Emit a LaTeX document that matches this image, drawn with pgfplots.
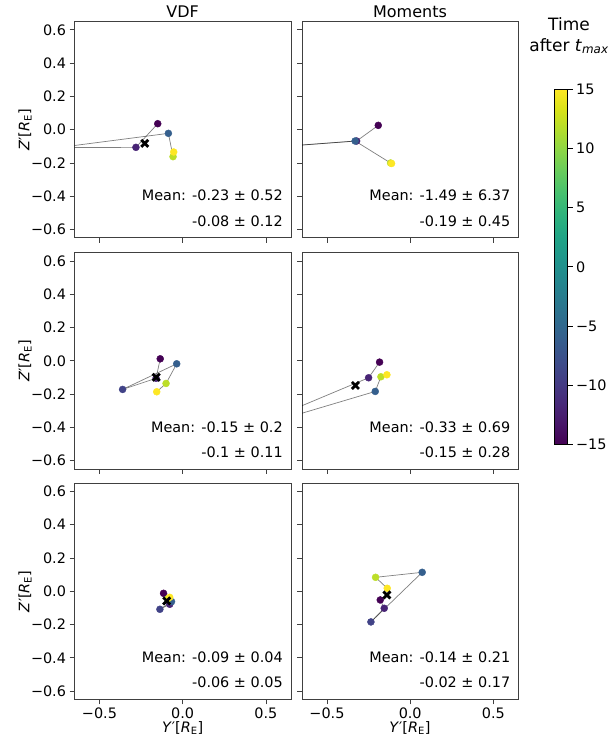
\documentclass[border=0pt]{standalone}
\usepackage{fontspec}
\setmainfont{DejaVu Sans}
\usepackage{pgfplots}
\usepackage{pgfplotstable}
\pgfplotsset{compat=1.18}

\pgfplotstableread{
x y t
-0.150 0.036 -15
-0.281 -0.106 -12
-0.751 -0.108 -9
-0.086 -0.022 -6
-0.058 -0.162 12
-0.054 -0.134 15
}\tabA
\pgfplotstableread{
x y t
-0.192 0.026 -15
-0.322 -0.068 -12
-7.860 -0.629 -9
-0.331 -0.068 -6
-0.118 -0.200 12
-0.112 -0.203 15
}\tabB
\pgfplotstableread{
x y t
-0.135 0.012 -15
-0.160 -0.105 -12
-0.361 -0.172 -9
-0.036 -0.018 -6
-0.100 -0.136 12
-0.156 -0.186 15
}\tabC
\pgfplotstableread{
x y t
-0.184 -0.008 -15
-0.250 -0.102 -12
-1.020 -0.425 -9
-0.210 -0.184 -6
-0.176 -0.096 12
-0.140 -0.084 15
}\tabD
\pgfplotstableread{
x y t
-0.115 -0.012 -15
-0.078 -0.078 -12
-0.137 -0.108 -9
-0.067 -0.062 -6
-0.090 -0.045 12
-0.078 -0.036 15
}\tabE
\pgfplotstableread{
x y t
-0.180 -0.052 -15
-0.156 -0.102 -12
-0.236 -0.184 -9
0.072 0.114 -6
-0.208 0.084 12
-0.138 0.018 15
}\tabF

\newcommand{\fs}{\fontsize{14.4}{17}\selectfont}
\pgfplotsset{
  panel/.style={
    width=216.4pt, height=216.4pt, scale only axis,
    xmin=-0.65, xmax=0.65, ymin=-0.65, ymax=0.65,
    xtick={-0.5,0,0.5}, ytick={-0.6,-0.4,-0.2,0,0.2,0.4,0.6},
    xticklabels={−0.5,0.0,0.5},
    yticklabels={−0.6,−0.4,−0.2,0.0,0.2,0.4,0.6},
    tick align=outside, xtick pos=bottom, ytick pos=left,
    major tick length=5pt,
    axis line style={black!75, line width=0.8pt},
    every tick/.style={black!75, line width=0.8pt},
    tick label style={font=\fs},
    colormap/viridis,
    point meta min=-15, point meta max=15,
    anchor=south west,
  },
  noxl/.style={xticklabels={,,}},
  noyl/.style={yticklabels={,,,,,,}},
  pts/.style={scatter, only marks, mark=*, mark size=3.5pt,
    scatter src=explicit,
    scatter/use mapped color={draw=mapped color, fill=mapped color}},
  ln/.style={no marks, draw=black, draw opacity=0.5, line width=0.7pt},
  xm/.style={only marks, mark=x, mark size=5pt,
    mark options={line width=2.8pt, draw=black}},
}
\newcommand{\panelplots}[1]{%
  \addplot[pts] table[x=x, y=y, meta=t] {#1};
  \addplot[ln, x filter/.expression={\coordindex>2 ? nan : x}] table[x=x, y=y] {#1};
  \addplot[ln, x filter/.expression={\coordindex<2 ? nan : x}] table[x=x, y=y] {#1};
}
\newcommand{\meantext}[2]{%
  \node[anchor=east, font=\fs, inner sep=0pt] at (rel axis cs:0.963,0.195) {#1};
  \node[anchor=east, font=\fs, inner sep=0pt] at (rel axis cs:0.963,0.079) {#2};
}

\begin{document}
\begin{tikzpicture}
\useasboundingbox (0,0) rectangle (608pt,743pt);

% Row 1 VDF
\begin{axis}[panel, noxl, at={(74.5pt,505.1pt)}]
\panelplots{\tabA}
\addplot[xm] coordinates {(-0.228,-0.082)};
\meantext{Mean: -0.23 ± 0.52}{-0.08 ± 0.12}
\end{axis}

% Row 1 Moments
\begin{axis}[panel, noxl, noyl, at={(302pt,505.1pt)},
  colorbar,
  colorbar style={
    at={(parent axis.north east)}, anchor=north west,
    xshift=27.7pt, yshift=-67.8pt,
    width=13pt, height=355pt, scale only axis,
    ytick={-15,-10,-5,0,5,10,15},
    yticklabels={−15,−10,−5,0,5,10,15},
    ytick pos=right, yticklabel pos=right,
    tick align=outside, major tick length=5pt,
    every tick/.style={black, line width=0.8pt},
    axis line style={black, line width=0.6pt},
    tick label style={font=\fs},
  }]
\panelplots{\tabB}
\addplot[xm] coordinates {(-1.49,-0.19)};
\meantext{Mean: -1.49 ± 6.37}{-0.19 ± 0.45}
\end{axis}

% Row 2 VDF
\begin{axis}[panel, noxl, at={(74.5pt,274pt)}]
\panelplots{\tabC}
\addplot[xm] coordinates {(-0.159,-0.099)};
\meantext{Mean: -0.15 ± 0.2}{-0.1 ± 0.11}
\end{axis}

% Row 2 Moments
\begin{axis}[panel, noxl, noyl, at={(302pt,274pt)}]
\panelplots{\tabD}
\addplot[xm] coordinates {(-0.329,-0.148)};
\meantext{Mean: -0.33 ± 0.69}{-0.15 ± 0.28}
\end{axis}

% Row 3 VDF
\begin{axis}[panel, at={(74.5pt,43.5pt)}]
\panelplots{\tabE}
\addplot[xm] coordinates {(-0.096,-0.058)};
\meantext{Mean: -0.09 ± 0.04}{-0.06 ± 0.05}
\end{axis}

% Row 3 Moments
\begin{axis}[panel, noyl, at={(302pt,43.5pt)}]
\panelplots{\tabF}
\addplot[xm] coordinates {(-0.140,-0.022)};
\meantext{Mean: -0.14 ± 0.21}{-0.02 ± 0.17}
\end{axis}

% Titles and labels
\node[font=\fontsize{16}{19}\selectfont] at (182.7pt,731.5pt) {VDF};
\node[font=\fontsize{16}{19}\selectfont] at (410pt,731.5pt) {Moments};
\foreach \yy in {613.3,382.3,151.7} {
  \node[rotate=90, font=\fs] at (25pt,\yy pt) {\textit{Z}′[\textit{R}\textsubscript{E}]};
}
\node[font=\fs] at (182.7pt,15pt) {\textit{Y}′[\textit{R}\textsubscript{E}]};
\node[font=\fs] at (410pt,15pt) {\textit{Y}′[\textit{R}\textsubscript{E}]};
\node[font=\fontsize{17}{21}\selectfont, align=center] at (569pt,707.5pt)
  {Time\\after \textit{t}\textsubscript{\textit{max}}};
\end{tikzpicture}
\end{document}
